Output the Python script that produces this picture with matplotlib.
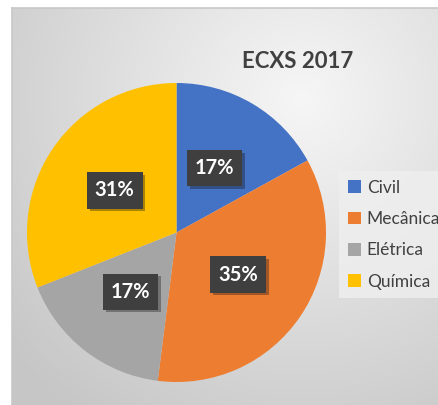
import numpy as np
import matplotlib
matplotlib.use('Agg')
from matplotlib import pyplot as plt
from matplotlib import patheffects as pe

# dati
cursos = ['Civil', 'Mecânica', 'Elétrica', 'Química']
percentuais = [17, 35, 17, 31]
cores = ['#4472c4', '#ed7d31', '#a5a5a5', '#ffc000']
titulo = 'ECXS 2017'

plt.rcParams['font.family'] = ['Lato', 'DejaVu Sans']

W, H = 439, 405
fig = plt.figure(figsize=(W / 100, H / 100), dpi=100, facecolor='white')

# sfondo con gradiente radiale (area del grafico)
x0, y0 = 12, 8
bg = fig.add_axes([x0 / W, 0, (W - x0) / W, (H - y0) / H])
yy, xx = np.mgrid[0:H - y0, 0:W - x0]
d = np.sqrt((xx - 290) ** 2 + (yy - 90) ** 2)
g = np.clip(0.965 - 0.16 * d / 330, 0.78, 1)
bg.imshow(np.dstack([g, g, g]), aspect='auto', interpolation='bilinear')
bg.set_axis_off()
fig.add_artist(plt.Line2D([x0 / W, 1], [1 - y0 / H, 1 - y0 / H], color='#c8c8c8', lw=1.2))
fig.add_artist(plt.Line2D([x0 / W, x0 / W], [0, 1 - y0 / H], color='#c8c8c8', lw=1.2))

# torta
cx, cy, r = 176.5, 232.5, 149.5
ax = fig.add_axes([(cx - r) / W, 1 - (cy + r) / H, 2 * r / W, 2 * r / H])
wedges, texts, autotexts = ax.pie(percentuais, colors=cores, startangle=90, counterclock=False,
                                  autopct='%1.0f%%', pctdistance=0.5, radius=1,
                                  textprops=dict(color='white', fontsize=14.5, fontweight='bold'))
ax.set_xlim(-1, 1)
ax.set_ylim(-1, 1)
for t in autotexts:
    t.set_bbox(dict(boxstyle='square,pad=0.4', facecolor='#3f3f3f', edgecolor='none'))
    t.get_bbox_patch().set_path_effects([pe.SimplePatchShadow(offset=(2, -2), alpha=0.35),
                                         pe.Normal()])

fig.text(298 / W, 1 - 62 / H, titulo, ha='center', va='center', fontsize=16,
         fontweight='bold', color='#404040')

leg = fig.legend(wedges, cursos, loc='upper left', bbox_to_anchor=(339 / W, 1 - 171 / H),
                 frameon=True, fancybox=False, facecolor='#efefef', edgecolor='none',
                 fontsize=12.5, labelcolor='#404040', handlelength=0.75, handleheight=0.75,
                 handletextpad=0.35, labelspacing=0.88, borderpad=0.5, borderaxespad=0)
for h in leg.legend_handles:
    h.set_edgecolor('none')

fig.savefig('out.png', dpi=100)
